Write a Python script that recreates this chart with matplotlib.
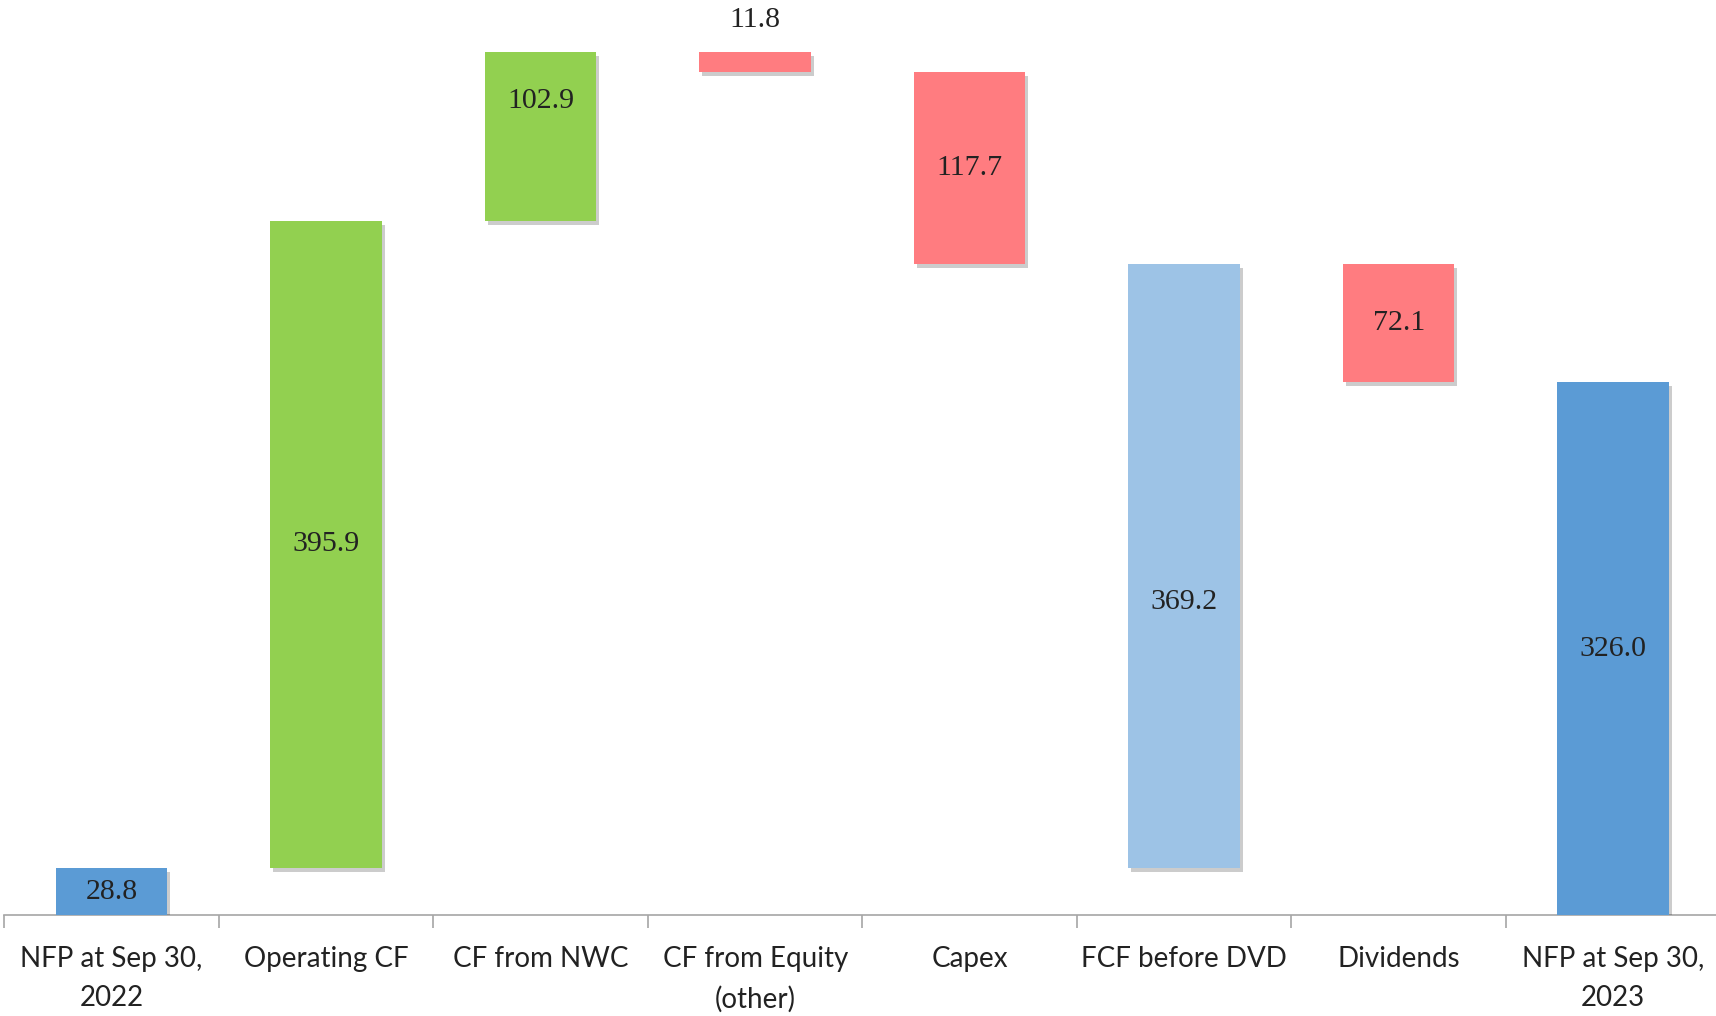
import numpy as np
import matplotlib.pyplot as plt
import matplotlib.patheffects as pe

# Waterfall data
categories = ['NFP at Sep 30,\n2022', 'Operating CF', 'CF from NWC', 'CF from Equity\n(other)',
              'Capex', 'FCF before DVD', 'Dividends', 'NFP at Sep 30,\n2023']
values = [28.8, 395.9, 102.9, -11.8, -117.7, 369.2, -72.1, 326.0]
kinds = ['total', 'inc', 'inc', 'dec', 'dec', 'sub', 'dec', 'total']

colors = {'total': '#5B9BD5', 'inc': '#92D050', 'dec': '#FF7C80', 'sub': '#9DC3E6'}
# where the value label sits, as a fraction of the bar height (None = above bar)
label_pos = [0.5, 0.5, 0.71, None, 0.5, 0.44, 0.5, 0.5]

# compute bottoms / heights
bottoms, heights = [], []
running = values[0]
for v, k in zip(values, kinds):
    if k == 'total':
        bottoms.append(0)
        heights.append(v)
    elif k == 'sub':
        bottoms.append(values[0])
        heights.append(v)
    elif k == 'inc':
        bottoms.append(running)
        heights.append(v)
        running += v
    else:
        running += v
        bottoms.append(running)
        heights.append(-v)

fig = plt.figure(figsize=(17.16, 10.16), dpi=100)
ax = fig.add_axes([4 / 1568, 92 / 928, 1.0, 560 * 1.494 / 928])

x = np.arange(len(categories))
shadow = [pe.SimplePatchShadow(offset=(2, -3), shadow_rgbFace='black', alpha=0.2), pe.Normal()]
bars = ax.bar(x, heights, bottom=bottoms, width=0.52,
              color=[colors[k] for k in kinds], zorder=3)
for b in bars:
    b.set_path_effects(shadow)

for b, v, bot, h, p in zip(bars, values, bottoms, heights, label_pos):
    cx = b.get_x() + b.get_width() / 2
    if p is None:
        ax.text(cx, bot + h + 12, f'{abs(v):.1f}', ha='center', va='bottom',
                fontsize=21.5, family='Liberation Serif', color='#222222', zorder=4)
    else:
        ax.text(cx, bot + h * p, f'{abs(v):.1f}', ha='center', va='center',
                fontsize=21.5, family='Liberation Serif', color='#222222', zorder=4)

ax.set_xlim(-0.5, 7.5)
ax.set_ylim(0, 560)
ax.set_yticks([])
ax.set_xticks(np.arange(-0.5, 8, 1))
ax.set_xticklabels([])
ax.set_xticks(x, minor=True)
ax.set_xticklabels(categories, minor=True, fontsize=20, family='Lato', color='#222222',
                   linespacing=1.62)
ax.tick_params(axis='x', which='major', length=9, width=1.2, color='#A6A6A6', direction='out')
ax.tick_params(axis='x', which='minor', length=0, pad=22)

for s in ['top', 'right', 'left']:
    ax.spines[s].set_visible(False)
ax.spines['bottom'].set_color('#A6A6A6')
ax.spines['bottom'].set_linewidth(1.2)

fig.savefig('out.png', dpi=100)
